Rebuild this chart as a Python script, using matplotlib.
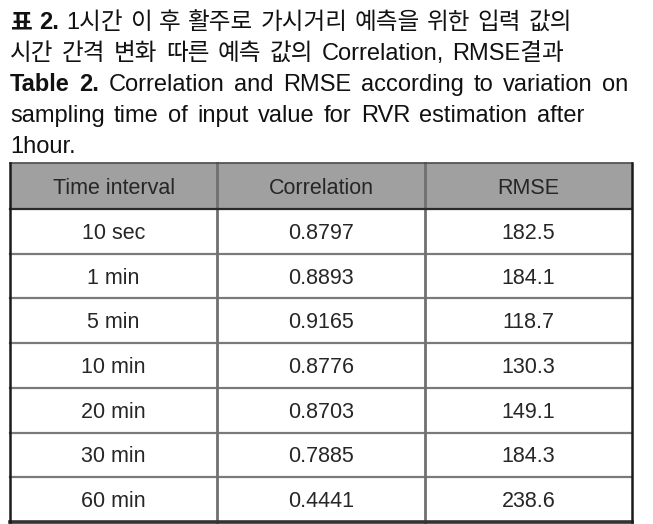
import matplotlib
matplotlib.use("Agg")
import matplotlib.pyplot as plt
from matplotlib.patches import Rectangle

# caption lines: list of (word, bold)
caption = [
    [("표", True), ("2.", True), ("1시간", False), ("이", False), ("후", False), ("활주로", False),
     ("가시거리", False), ("예측을", False), ("위한", False), ("입력", False), ("값의", False)],
    [("시간", False), ("간격", False), ("변화", False), ("따른", False), ("예측", False),
     ("값의", False), ("Correlation,", False), ("RMSE결과", False)],
    [("Table", True), ("2.", True), ("Correlation", False), ("and", False), ("RMSE", False),
     ("according", False), ("to", False), ("variation", False), ("on", False)],
    [("sampling", False), ("time", False), ("of", False), ("input", False), ("value", False),
     ("for", False), ("RVR", False), ("estimation", False), ("after", False)],
    [("1hour.", False)],
]
line_right = [572, 564, 628, 584, None]

header = ["Time interval", "Correlation", "RMSE"]
intervals = ["10 sec", "1 min", "5 min", "10 min", "20 min", "30 min", "60 min"]
correlation = ["0.8797", "0.8893", "0.9165", "0.8776", "0.8703", "0.7885", "0.4441"]
rmse = ["182.5", "184.1", "118.7", "130.3", "149.1", "184.3", "238.6"]

cap_family = ["Liberation Sans", "Noto Sans CJK KR", "DejaVu Sans"]
cell_family = ["Liberation Sans", "DejaVu Sans"]

fig = plt.figure(figsize=(6.53, 5.24), dpi=100)
ax = fig.add_axes([0, 0, 1, 1])
ax.set_xlim(0, 653)
ax.set_ylim(524, 0)
ax.axis("off")

fig.canvas.draw()
renderer = fig.canvas.get_renderer()

# caption, justified word by word
cap_base = [29, 60, 91, 122, 153]
for words, right_edge, yb in zip(caption, line_right, cap_base):
    items = []
    for w, b in words:
        t = ax.text(0, yb, w, fontsize=17, family=cap_family,
                    fontweight="bold" if b else "normal",
                    va="baseline", ha="left", color="#111111")
        items.append(t)
    widths = [t.get_window_extent(renderer).width for t in items]
    if right_edge is None or len(items) == 1:
        gap = 6
    else:
        gap = (right_edge - 10 - sum(widths)) / (len(items) - 1)
    x = 10
    for t, wd in zip(items, widths):
        t.set_x(x)
        x += wd + gap

# table geometry
left, right = 10, 632
top, head_bot, bottom = 163, 209, 522
ncol = len(header)
nrow = len(intervals)
cw = (right - left) / ncol
rh = (bottom - head_bot) / nrow

ax.add_patch(Rectangle((left, top), right - left, head_bot - top,
                       facecolor="#a0a0a0", edgecolor="none", zorder=1))

for j, h in enumerate(header):
    ax.text(left + cw * (j + 0.5), (top + head_bot) / 2 + 8, h, fontsize=15.5,
            family=cell_family, ha="center", va="baseline",
            color="#262626", zorder=3)

cols = [intervals, correlation, rmse]
for i in range(nrow):
    yc = head_bot + rh * (i + 0.5)
    for j in range(ncol):
        ax.text(left + cw * (j + 0.5), yc + 7.5, cols[j][i], fontsize=15.5,
                family=cell_family, ha="center", va="baseline",
                color="#262626", zorder=3)

# inner lines
for i in range(1, nrow):
    y = head_bot + rh * i
    ax.plot([left, right], [y, y], color="#7a7a7a", lw=1.6, zorder=2)
for j in range(1, ncol):
    x = left + cw * j
    ax.plot([x, x], [top, bottom], color="#707070", lw=2.0, zorder=2)

# outer / header lines
ax.plot([left, right], [head_bot, head_bot], color="#2a2a2a", lw=1.6, zorder=2)
ax.plot([left, right], [top, top], color="#4a4a4a", lw=1.2, zorder=2)
ax.plot([left, right], [bottom, bottom], color="#333333", lw=2.6, zorder=2)
ax.plot([left, left], [top, bottom], color="#1a1a1a", lw=1.8, zorder=2)
ax.plot([right, right], [top, bottom], color="#1a1a1a", lw=1.8, zorder=2)

fig.savefig("out.png", dpi=100)
